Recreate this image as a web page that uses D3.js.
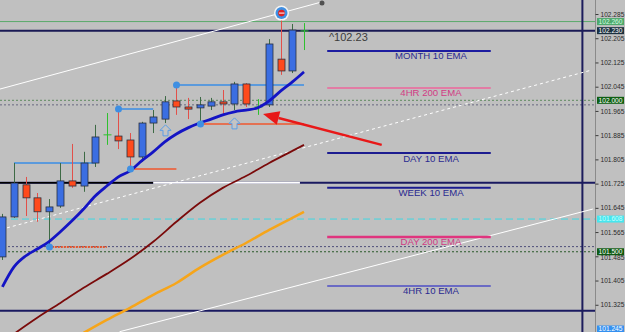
<!DOCTYPE html>
<meta charset="utf-8">
<style>
  body { margin: 0; background: #c0c0c0; }
  svg { display: block; }
  text { font-family: "Liberation Sans", Arial, sans-serif; }
</style>
<body>
<div id="chart"></div>
<script src="https://d3js.org/d3.v7.min.js"></script>
<script>
// candles, oldest first (bar index 0..26)
var barOpen  = [101.483, 101.615, 101.721, 101.678, 101.632, 101.651, 101.734, 101.717, 101.793, 101.886, 101.882, 101.869, 101.813, 101.925, 101.938, 101.998, 101.978, 101.975, 101.981, 101.995, 101.988, 102.054, 101.978, 101.985, 102.136, 102.097, 102.229];
var barHigh  = [101.625, 101.793, 101.747, 101.694, 101.674, 101.793, 101.856, 101.830, 101.919, 101.958, 101.971, 101.892, 101.929, 101.968, 102.014, 102.054, 102.008, 102.011, 102.008, 102.034, 102.061, 102.057, 102.004, 102.202, 102.288, 102.252, 102.255];
var barLow   = [101.473, 101.612, 101.618, 101.599, 101.516, 101.645, 101.711, 101.698, 101.780, 101.853, 101.839, 101.777, 101.797, 101.892, 101.925, 101.952, 101.938, 101.922, 101.968, 101.952, 101.968, 101.978, 101.952, 101.978, 102.084, 102.090, 102.166];
var barClose = [101.615, 101.727, 101.678, 101.632, 101.648, 101.734, 101.717, 101.793, 101.879, 101.886, 101.866, 101.813, 101.925, 101.945, 101.995, 101.978, 101.971, 101.985, 101.995, 101.988, 102.054, 101.988, 101.978, 102.186, 102.097, 102.232, 102.229];

// moving averages
var emaBlue = [101.384, 101.450, 101.486, 101.509, 101.533, 101.566, 101.602, 101.641, 101.684, 101.717, 101.747, 101.767, 101.800, 101.830, 101.863, 101.889, 101.909, 101.925, 101.938, 101.952, 101.962, 101.968, 101.975, 101.998, 102.031, 102.061, 102.094];
var emaMaroon = [[1, 101.229], [3, 101.282], [5, 101.331], [7, 101.381], [9, 101.427], [11, 101.476], [13, 101.533], [15, 101.599], [17, 101.661], [19, 101.711], [21, 101.750], [23, 101.793], [25, 101.833], [26, 101.853]];
var emaOrange = [[7, 101.232], [9, 101.275], [11, 101.315], [13, 101.358], [15, 101.397], [17, 101.447], [19, 101.490], [21, 101.529], [23, 101.572], [25, 101.612], [26, 101.632]];

// trend lines [bar, price]
var upperTrend = [[-1, 102.029], [27.55, 102.325]];
var midTrend = [[0.4, 101.579], [50.8, 102.100]];
var lowTrend = [[10.1, 101.236], [50.9, 101.641]];

// full width levels
var levelPrices = [102.260, 102.230, 102.000, 101.985, 101.728, 101.608, 101.517, 101.500, 101.305];

// short levels [fromBar, toBar, price]
var blueSegs = [[1, 8, 101.793], [10, 13, 101.971], [15, 26, 102.051]];
var redSegs = [[11, 15, 101.773], [17, 26, 101.922]];
var redDotSegs = [[4, 9, 101.516]];
var blackSeg = [-1, 13, 101.728];
var whiteSeg = [13, 25.65, 101.728];
var dots = [[4, 101.516], [10, 101.971], [11, 101.773], [15, 102.051], [17, 101.922]];
var upArrows = [[14, 101.919], [20, 101.942]];
var topMarker = [24, 102.288];
var redArrow = [[32.7, 101.853], [22.47, 101.955]];
var vLineBar = 50;

// EMA labels
var emaNames = ["MONTH 10 EMA", "4HR 200 EMA", "DAY 10 EMA", "WEEK 10 EMA", "DAY 200 EMA", "4HR 10 EMA"];
var emaPrices = [102.163, 102.041, 101.826, 101.711, 101.549, 101.387];
var lastLabel = "^102.23";
var lastPrice = 102.23;

// axis
var priceTicks = [102.285, 102.205, 102.125, 102.045, 101.965, 101.885, 101.805, 101.725, 101.645, 101.565, 101.485, 101.405, 101.325];
var boxPrices = [102.260, 102.230, 102.000, 101.608, 101.500, 101.245];

var width = 625, height = 332, plotRight = 595;

var x = d3.scaleLinear().domain([0, 50]).range([2.4, 582.4]);
var y = d3.scaleLinear().domain([101.245, 102.285]).range([329, 14]);

var svg = d3.select("#chart").append("svg")
  .attr("width", width)
  .attr("height", height);

svg.append("rect").attr("width", width).attr("height", height).attr("fill", "#c0c0c0");

svg.append("clipPath").attr("id", "clip")
  .append("rect").attr("width", plotRight).attr("height", height);

var g = svg.append("g").attr("clip-path", "url(#clip)");

var line = d3.line().x(function(d) { return x(d[0]); }).y(function(d) { return y(d[1]); });

// full width horizontal levels
var levelColor = ["#5aaa6a", "#1a1a55", "#5f8a5f", "#686880", "#1a1a60", "#3fd8e2", "#4e4e7a", "#2a5a2a", "#1a1a60"];
var levelWidth = [1, 2, 1, 1, 2, 1, 1, 1, 2];
var levelDash = [null, null, "2,2", "2,2", null, "7,4", "2,2", "2,2", null];
g.selectAll(".level").data(levelPrices).enter().append("line")
  .attr("class", "level")
  .attr("x1", 0).attr("x2", plotRight)
  .attr("y1", function(d) { return y(d); })
  .attr("y2", function(d) { return y(d); })
  .attr("stroke", function(d, i) { return levelColor[i]; })
  .attr("stroke-width", function(d, i) { return levelWidth[i]; })
  .attr("stroke-dasharray", function(d, i) { return levelDash[i]; });

// vertical line
g.append("line")
  .attr("x1", x(vLineBar)).attr("x2", x(vLineBar))
  .attr("y1", 0).attr("y2", height)
  .attr("stroke", "#1c1c5c").attr("stroke-width", 2);

// black / white piece on the 101.728 level
g.append("line")
  .attr("x1", x(blackSeg[0])).attr("x2", x(blackSeg[1]))
  .attr("y1", y(blackSeg[2])).attr("y2", y(blackSeg[2]))
  .attr("stroke", "#000").attr("stroke-width", 1.5);
g.append("line")
  .attr("x1", x(whiteSeg[0])).attr("x2", x(whiteSeg[1]))
  .attr("y1", y(whiteSeg[2])).attr("y2", y(whiteSeg[2]))
  .attr("stroke", "#fff").attr("stroke-width", 2);

// white trend lines
g.append("path").datum(upperTrend).attr("d", line)
  .attr("fill", "none").attr("stroke", "#fff").attr("stroke-width", 1);
g.append("circle")
  .attr("cx", x(upperTrend[1][0])).attr("cy", y(upperTrend[1][1]) + 1)
  .attr("r", 2.5).attr("fill", "#505050");
g.append("path").datum(midTrend).attr("d", line)
  .attr("fill", "none").attr("stroke", "#fff").attr("stroke-width", 1)
  .attr("stroke-dasharray", "3,3");
g.append("path").datum(lowTrend).attr("d", line)
  .attr("fill", "none").attr("stroke", "#fff").attr("stroke-width", 1);

// EMA label lines and texts
var emaLineColor = ["#1c1ca0", "#e27ca4", "#1c1c90", "#1c1c90", "#e0347e", "#6a6ac4"];
var emaTextColor = ["#2a2a90", "#d23a84", "#2a2a90", "#2a2a90", "#d23a84", "#2a2a90"];
g.selectAll(".emaLine").data(emaPrices).enter().append("line")
  .attr("class", "emaLine")
  .attr("x1", x(28)).attr("x2", x(42.1))
  .attr("y1", function(d) { return y(d); })
  .attr("y2", function(d) { return y(d); })
  .attr("stroke", function(d, i) { return emaLineColor[i]; })
  .attr("stroke-width", function(d, i) { return i == 4 ? 2.5 : 2; });
g.selectAll(".emaText").data(emaNames).enter().append("text")
  .attr("class", "emaText")
  .attr("x", x(36.95))
  .attr("y", function(d, i) { return y(emaPrices[i]) + 8.5; })
  .attr("text-anchor", "middle")
  .attr("font-size", "9.6px")
  .attr("fill", function(d, i) { return emaTextColor[i]; })
  .text(function(d) { return d; });

g.append("text")
  .attr("x", x(28.15)).attr("y", y(lastPrice) + 10)
  .attr("font-size", "11px").attr("fill", "#3c3c3c")
  .text(lastLabel);

// moving averages
g.append("path").datum(emaMaroon).attr("d", line.curve(d3.curveMonotoneX))
  .attr("fill", "none").attr("stroke", "#7a0a0a").attr("stroke-width", 1.8);
g.append("path").datum(emaOrange).attr("d", line)
  .attr("fill", "none").attr("stroke", "#f6a51a").attr("stroke-width", 2.5);
line.curve(d3.curveLinear);

// short levels
g.selectAll(".bseg").data(blueSegs).enter().append("line")
  .attr("x1", function(d) { return x(d[0]); }).attr("x2", function(d) { return x(d[1]); })
  .attr("y1", function(d) { return y(d[2]); }).attr("y2", function(d) { return y(d[2]); })
  .attr("stroke", "#3a8ee6").attr("stroke-width", 1.5);
g.selectAll(".rseg").data(redSegs).enter().append("line")
  .attr("x1", function(d) { return x(d[0]); }).attr("x2", function(d) { return x(d[1]); })
  .attr("y1", function(d) { return y(d[2]); }).attr("y2", function(d) { return y(d[2]); })
  .attr("stroke", "#f0572e").attr("stroke-width", 1.5);
g.selectAll(".rdseg").data(redDotSegs).enter().append("line")
  .attr("x1", function(d) { return x(d[0]); }).attr("x2", function(d) { return x(d[1]); })
  .attr("y1", function(d) { return y(d[2]); }).attr("y2", function(d) { return y(d[2]); })
  .attr("stroke", "#e5552e").attr("stroke-width", 2).attr("stroke-dasharray", "2,1");

// candles
var bars = d3.range(barOpen.length);
var bx = function(i) { return Math.round(x(i)) + 0.5; };
var wickColor = function(i) {
  if (barOpen[i] == barClose[i]) return "#2ec02e";
  return barClose[i] > barOpen[i] ? "#3d6a45" : "#e2504a";
};
g.selectAll(".wick").data(bars).enter().append("line")
  .attr("x1", bx).attr("x2", bx)
  .attr("y1", function(i) { return y(barHigh[i]); })
  .attr("y2", function(i) { return y(barLow[i]); })
  .attr("stroke", wickColor).attr("stroke-width", 1);
g.selectAll(".body").data(bars.filter(function(i) { return barOpen[i] != barClose[i]; })).enter().append("rect")
  .attr("x", function(i) { return bx(i) - 3.5; })
  .attr("width", 7)
  .attr("y", function(i) { return y(Math.max(barOpen[i], barClose[i])); })
  .attr("height", function(i) { return Math.max(2, Math.abs(y(barOpen[i]) - y(barClose[i]))); })
  .attr("fill", function(i) { return barClose[i] > barOpen[i] ? "#3b6ee2" : "#ff4a1c"; })
  .attr("stroke", "#2a3040").attr("stroke-width", 0.8);
g.selectAll(".doji").data(bars.filter(function(i) { return barOpen[i] == barClose[i]; })).enter().append("line")
  .attr("x1", function(i) { return bx(i) - 4; }).attr("x2", function(i) { return bx(i) + 4; })
  .attr("y1", function(i) { return y(barClose[i]); }).attr("y2", function(i) { return y(barClose[i]); })
  .attr("stroke", "#2ec02e").attr("stroke-width", 1);

// blue EMA
g.append("path").datum(emaBlue.map(function(v, i) { return [i, v]; }))
  .attr("d", line.curve(d3.curveMonotoneX))
  .attr("fill", "none").attr("stroke", "#1414c4").attr("stroke-width", 2.8);
line.curve(d3.curveLinear);

// dots
g.selectAll(".dot").data(dots).enter().append("circle")
  .attr("cx", function(d) { return bx(d[0]); })
  .attr("cy", function(d) { return y(d[1]); })
  .attr("r", 3.5).attr("fill", "#3f8fe2");

// hollow up arrows
var arrowShape = "M0,0 L5.5,5.5 L2.5,5.5 L2.5,11 L-2.5,11 L-2.5,5.5 L-5.5,5.5 Z";
g.selectAll(".uparrow").data(upArrows).enter().append("path")
  .attr("transform", function(d) { return "translate(" + bx(d[0]) + "," + y(d[1]) + ")"; })
  .attr("d", arrowShape)
  .attr("fill", "#c4c4c4").attr("stroke", "#5c9ee6").attr("stroke-width", 1);

// marker on top
var mk = g.append("g").attr("transform", "translate(" + bx(topMarker[0]) + "," + y(topMarker[1]) + ")");
mk.append("circle").attr("r", 7.5).attr("fill", "#f4f4f4");
mk.append("circle").attr("r", 6).attr("fill", "#3f8fe2");
mk.append("circle").attr("r", 3.3).attr("fill", "#e02020");
mk.append("line").attr("x1", -2.5).attr("x2", 3).attr("y1", 0).attr("y2", 0)
  .attr("stroke", "#fff").attr("stroke-width", 1);

// red arrow
var ax0 = x(redArrow[0][0]), ay0 = y(redArrow[0][1]);
var ax1 = x(redArrow[1][0]), ay1 = y(redArrow[1][1]);
var ang = Math.atan2(ay1 - ay0, ax1 - ax0);
var headLen = 16, headW = 7;
var hx = ax1 - headLen * Math.cos(ang), hy = ay1 - headLen * Math.sin(ang);
g.append("line")
  .attr("x1", ax0).attr("y1", ay0).attr("x2", hx).attr("y2", hy)
  .attr("stroke", "#e81818").attr("stroke-width", 2.5);
g.append("path")
  .attr("d", "M" + ax1 + "," + ay1 +
    " L" + (hx + headW * Math.sin(ang)) + "," + (hy - headW * Math.cos(ang)) +
    " L" + (hx - headW * Math.sin(ang)) + "," + (hy + headW * Math.cos(ang)) + " Z")
  .attr("fill", "#e81818");

// price axis
svg.append("line")
  .attr("x1", plotRight + 0.5).attr("x2", plotRight + 0.5)
  .attr("y1", 0).attr("y2", height)
  .attr("stroke", "#8a8a8a").attr("stroke-width", 1);

var yAxis = d3.axisRight(y)
  .tickValues(priceTicks)
  .tickSize(3)
  .tickSizeOuter(0)
  .tickPadding(2)
  .tickFormat(d3.format(".3f"));

var ga = svg.append("g")
  .attr("transform", "translate(" + (plotRight + 0.5) + ",0)")
  .call(yAxis);
ga.select(".domain").remove();
ga.selectAll("line").attr("stroke", "#3a3a3a");
ga.selectAll("text")
  .attr("font-size", "6.6px")
  .attr("font-family", "Liberation Sans, Arial, sans-serif")
  .attr("fill", "#2a2a2a");
// the 101.485 label sits partly under the 101.500 box, as on the reference
ga.selectAll(".tick").filter(function(d) { return d == 101.485; })
  .select("text").attr("dy", "0.55em");

// price boxes
var boxFill = ["#4ea86c", "#1c3040", "#0e5e12", "#46e6ee", "#0e5a12", "#3490f0"];
var boxText = ["#d4ffe0", "#ffffff", "#ffffff", "#c8ffff", "#ffffff", "#ffffff"];
var boxes = svg.selectAll(".pbox").data(boxPrices).enter().append("g")
  .attr("transform", function(d) { return "translate(597," + y(d) + ")"; });
boxes.append("rect")
  .attr("x", 0).attr("y", -3.5).attr("width", 27).attr("height", 7)
  .attr("fill", function(d, i) { return boxFill[i]; });
boxes.append("text")
  .attr("x", 13.5).attr("y", 2.3)
  .attr("text-anchor", "middle")
  .attr("font-size", "6.6px")
  .attr("fill", function(d, i) { return boxText[i]; })
  .text(function(d) { return d3.format(".3f")(d); });
</script>
</body>
